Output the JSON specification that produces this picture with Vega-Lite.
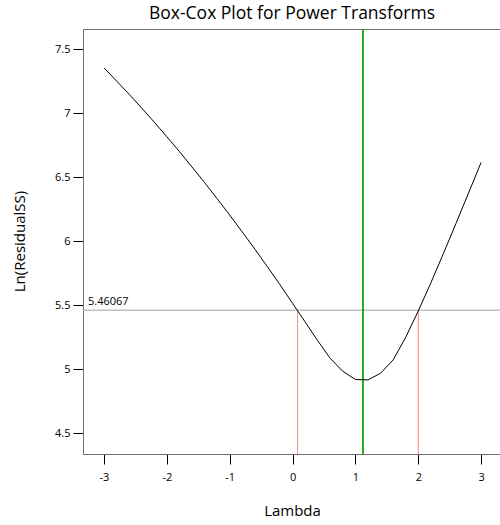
{
  "$schema": "https://vega.github.io/schema/vega-lite/v6.json",
  "width": 418,
  "height": 425,
  "autosize": {"type": "none"},
  "padding": {"left": 83, "top": 29, "right": 0, "bottom": 71},
  "title": {"text": "Box-Cox Plot for Power Transforms", "fontSize": 17.5, "font": "Open Sans", "fontWeight": "normal", "color": "#000000", "anchor": "middle", "offset": 6},
  "config": {
    "view": {"stroke": "#707070", "strokeWidth": 1},
    "font": "Open Sans",
    "axis": {"grid": false, "domainColor": "#707070", "tickColor": "#000000", "tickSize": 10, "labelFontSize": 11, "labelColor": "#000000", "titleFontSize": 15, "titleFontWeight": "normal", "titleColor": "#000000", "labelFont": "Open Sans", "titleFont": "Open Sans", "labelExpr": "'' + datum.value"}
  },
  "datasets": {
    "curve": [
      {"lambda": -3.0, "lnss": 7.355},
      {"lambda": -2.8, "lnss": 7.253},
      {"lambda": -2.6, "lnss": 7.149},
      {"lambda": -2.4, "lnss": 7.041},
      {"lambda": -2.2, "lnss": 6.931},
      {"lambda": -2.0, "lnss": 6.817},
      {"lambda": -1.8, "lnss": 6.701},
      {"lambda": -1.6, "lnss": 6.581},
      {"lambda": -1.4, "lnss": 6.459},
      {"lambda": -1.2, "lnss": 6.333},
      {"lambda": -1.0, "lnss": 6.205},
      {"lambda": -0.8, "lnss": 6.073},
      {"lambda": -0.6, "lnss": 5.939},
      {"lambda": -0.4, "lnss": 5.801},
      {"lambda": -0.2, "lnss": 5.661},
      {"lambda": 0.0, "lnss": 5.515},
      {"lambda": 0.2, "lnss": 5.37},
      {"lambda": 0.4, "lnss": 5.223},
      {"lambda": 0.6, "lnss": 5.085},
      {"lambda": 0.8, "lnss": 4.984},
      {"lambda": 1.0, "lnss": 4.92},
      {"lambda": 1.2, "lnss": 4.917},
      {"lambda": 1.4, "lnss": 4.969},
      {"lambda": 1.6, "lnss": 5.073},
      {"lambda": 1.8, "lnss": 5.25},
      {"lambda": 2.0, "lnss": 5.456},
      {"lambda": 2.2, "lnss": 5.675},
      {"lambda": 2.4, "lnss": 5.905},
      {"lambda": 2.6, "lnss": 6.14},
      {"lambda": 2.8, "lnss": 6.378},
      {"lambda": 3.0, "lnss": 6.617}
    ],
    "ci": [
      {"lambda": 0.08, "lnss": 5.46067},
      {"lambda": 2.0, "lnss": 5.46067}
    ],
    "best": [{"lambda": 1.12}],
    "threshold": [{"lnss": 5.46067, "label": "5.46067", "lambda": -3.254}]
  },
  "layer": [
    {
      "data": {"name": "threshold"},
      "mark": {"type": "rule", "color": "#c0c0c0", "strokeWidth": 1.5},
      "encoding": {
        "y": {"field": "lnss", "type": "quantitative", "scale": {"domain": [4.338, 7.659], "nice": false, "zero": false}, "axis": {"title": "Ln(ResidualSS)", "values": [4.5, 5, 5.5, 6, 6.5, 7, 7.5], "labelPadding": 3, "titleX": -59, "titleY": 212, "titleBaseline": "alphabetic"}}
      }
    },
    {
      "data": {"name": "threshold"},
      "mark": {"type": "text", "align": "left", "baseline": "bottom", "dy": -3, "fontSize": 11, "color": "#000000"},
      "encoding": {
        "x": {"field": "lambda", "type": "quantitative"},
        "y": {"field": "lnss", "type": "quantitative"},
        "text": {"field": "label"}
      }
    },
    {
      "data": {"name": "ci"},
      "mark": {"type": "rule", "color": "#ff8080", "strokeWidth": 1},
      "encoding": {
        "x": {"field": "lambda", "type": "quantitative"},
        "y": {"field": "lnss", "type": "quantitative"},
        "y2": {"datum": 4.338}
      }
    },
    {
      "data": {"name": "best"},
      "mark": {"type": "rule", "color": "#22aa22", "strokeWidth": 2},
      "encoding": {
        "x": {"field": "lambda", "type": "quantitative"}
      }
    },
    {
      "data": {"name": "curve"},
      "mark": {"type": "line", "color": "#000000", "strokeWidth": 1},
      "encoding": {
        "x": {"field": "lambda", "type": "quantitative", "scale": {"domain": [-3.334, 3.316], "nice": false, "zero": false}, "axis": {"title": "Lambda", "values": [-3, -2, -1, 0, 1, 2, 3], "labelPadding": 7, "titleY": 61, "titleBaseline": "alphabetic"}},
        "y": {"field": "lnss", "type": "quantitative"}
      }
    }
  ]
}
